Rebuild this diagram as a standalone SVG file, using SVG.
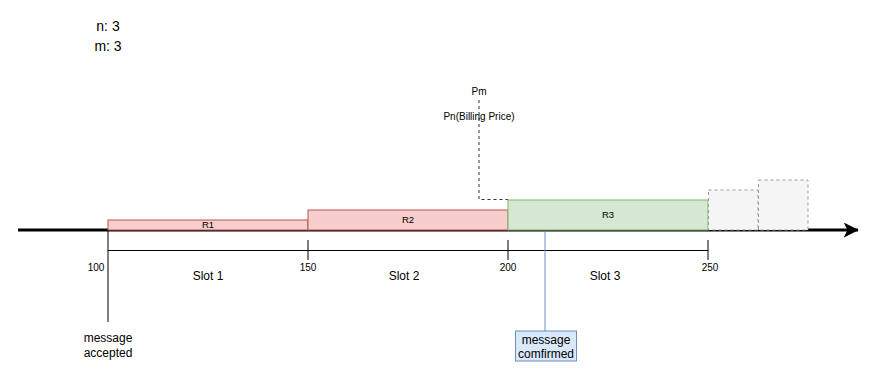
<svg xmlns="http://www.w3.org/2000/svg" width="878" height="372" viewBox="0 0 878 372">
<defs>
<style>
text{font-family:"Liberation Sans",Arial,sans-serif;fill:#000;text-anchor:middle}
.s9{font-size:9.5px}.s10{font-size:10px}.s12{font-size:12px}.s14{font-size:14px}
.red{fill:#f8cecc;stroke:#b85450;stroke-width:1}
.grn{fill:#d5e8d4;stroke:#82b366;stroke-width:1}
.gry{fill:#f5f5f5;stroke:#999;stroke-width:1;stroke-dasharray:3 3}
.ln{stroke:#000;stroke-width:1;fill:none}
</style>
<marker id="arr" viewBox="0 0 10 10" refX="9.5" refY="5" markerWidth="5" markerHeight="5" orient="auto" markerUnits="strokeWidth">
<path d="M0,0 L10,5 L0,10 L2.5,5 Z" fill="#000"/>
</marker>
</defs>
<rect width="878" height="372" fill="#fff"/>
<g id="params">
<text class="s14" x="108" y="31">n: 3</text>
<text class="s14" x="108" y="51">m: 3</text>
</g>
<g id="connectors">
<line x1="18" y1="230" x2="858" y2="230" stroke="#000" stroke-width="3" marker-end="url(#arr)"/>
<polyline points="479,100 479,199.5 508,199.5" fill="none" stroke="#333" stroke-width="1" stroke-dasharray="3 3"/>
<line class="ln" x1="108" y1="250.5" x2="708" y2="250.5"/>
<line class="ln" x1="108" y1="230" x2="108" y2="322"/>
<line class="ln" x1="308" y1="240" x2="308" y2="260"/>
<line class="ln" x1="508" y1="240" x2="508" y2="260"/>
<line class="ln" x1="708" y1="240" x2="708" y2="260"/>
<line x1="545" y1="231" x2="545" y2="331" stroke="#6c8ebf" stroke-width="1"/>
</g>
<g id="R1"><rect class="red" x="108" y="220" width="200" height="10"/><text class="s9" x="208" y="228">R1</text></g>
<g id="R2"><rect class="red" x="308" y="210" width="200" height="20"/><text class="s9" x="408" y="223">R2</text></g>
<g id="R3"><rect class="grn" x="508" y="200" width="200" height="30"/><text class="s9" x="608" y="218">R3</text></g>
<g id="future1"><rect class="gry" x="708.5" y="190" width="49.5" height="40"/></g>
<g id="future2"><rect class="gry" x="758.5" y="180" width="49.5" height="50"/></g>
<g id="price-labels">
<text class="s10" x="479" y="95">Pm</text>
<text class="s10" x="479" y="120">Pn(Billing Price)</text>
</g>
<g id="ticks">
<text class="s10" x="96" y="271">100</text>
<text class="s10" x="308" y="271">150</text>
<text class="s10" x="508" y="271">200</text>
<text class="s10" x="710" y="271">250</text>
<text class="s12" x="208" y="280">Slot 1</text>
<text class="s12" x="404" y="280">Slot 2</text>
<text class="s12" x="605" y="280">Slot 3</text>
</g>
<g id="accepted">
<text class="s12" x="108" y="342">message</text>
<text class="s12" x="108" y="357">accepted</text>
</g>
<g id="confirmed">
<rect x="515.5" y="331" width="61" height="30" fill="#dae8fc" stroke="#6c8ebf" stroke-width="1"/>
<text class="s12" x="546" y="344">message</text>
<text class="s12" x="546" y="358">comfirmed</text>
</g>
</svg>
